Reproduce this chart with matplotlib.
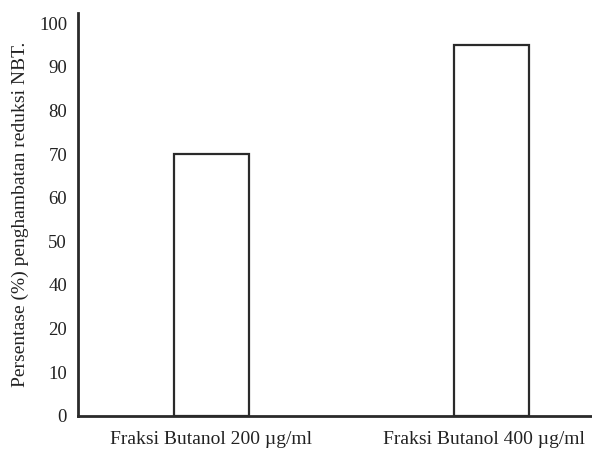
import numpy as np
import matplotlib
matplotlib.use('Agg')
import matplotlib.pyplot as plt
import matplotlib.transforms as mtransforms

categories = ['Fraksi Butanol 200 µg/ml', 'Fraksi Butanol 400 µg/ml']
values = [70, 95]
ytick_values = [0, 10, 20, 40, 50, 60, 70, 80, 90, 100]  # the source axis skips 30


# the printed axis has no "30", so the span 20..40 takes one step only
def forward(v):
    v = np.asarray(v, dtype=float)
    return np.where(v <= 20, v, np.where(v >= 40, v - 10, 20 + (v - 20) * 0.5))


def inverse(p):
    p = np.asarray(p, dtype=float)
    return np.where(p <= 20, p, np.where(p >= 30, p + 10, 20 + (p - 20) * 2))


plt.rcParams['font.family'] = 'Liberation Serif'

fig = plt.figure(figsize=(5.92, 4.53), dpi=100)
ax = fig.add_axes([0.132, 0.082, 0.868, 0.889])
ax.set_yscale('function', functions=(forward, inverse))

x = np.arange(len(categories))
ax.bar(x, values, width=0.267, color='white', edgecolor='#2a2a2a', linewidth=1.6)

ax.set_xlim(-0.473, 1.356)
ax.set_ylim(0, 102.3)
ax.set_yticks(ytick_values)
ax.set_yticklabels([str(v) for v in ytick_values])
ax.yaxis.set_minor_locator(matplotlib.ticker.NullLocator())
ax.set_xticks(x)
ax.set_xticklabels(categories)
ax.tick_params(axis='both', length=0, colors='#222222')
ax.tick_params(axis='y', pad=8, labelsize=13.5)
ax.tick_params(axis='x', pad=11, labelsize=14)

# last label sits a little left of its bar so it stays inside the figure
lbl = ax.get_xticklabels()[1]
lbl.set_transform(lbl.get_transform() + mtransforms.ScaledTranslation(-6 / 72, 0, fig.dpi_scale_trans))

ax.set_ylabel('Persentase (%) penghambatan reduksi NBT.', fontsize=14, color='#222222', labelpad=7)

for side in ['top', 'right']:
    ax.spines[side].set_visible(False)
for side in ['left', 'bottom']:
    ax.spines[side].set_linewidth(2)
    ax.spines[side].set_color('#2a2a2a')

plt.savefig('out.png', dpi=100)
